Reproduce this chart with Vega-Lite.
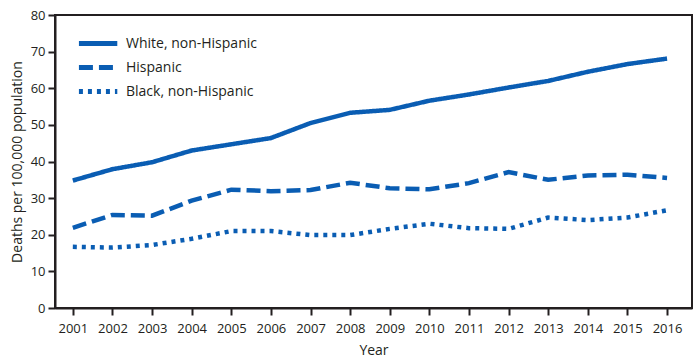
{
  "$schema": "https://vega.github.io/schema/vega-lite/v6.json",
  "width": 637,
  "height": 293,
  "autosize": {"type": "none"},
  "padding": {"left": 55, "top": 15, "right": 8, "bottom": 53},
  "background": "white",
  "config": {
    "font": "Open Sans",
    "view": {"stroke": "#231f20", "strokeWidth": 2},
    "axis": {
      "domainColor": "#231f20",
      "domainWidth": 2,
      "tickColor": "#231f20",
      "tickWidth": 2,
      "tickSize": 7,
      "labelColor": "#231f20",
      "titleColor": "#231f20",
      "labelFont": "Open Sans",
      "titleFont": "Open Sans",
      "labelFontSize": 13,
      "titleFontSize": 14,
      "titleFontWeight": "normal",
      "grid": false
    },
    "legend": {
      "labelFont": "Open Sans",
      "labelFontSize": 14,
      "labelColor": "#231f20"
    }
  },
  "data": {
    "values": [
      {"year": 2001, "group": "White, non-Hispanic", "rate": 34.8},
      {"year": 2002, "group": "White, non-Hispanic", "rate": 37.9},
      {"year": 2003, "group": "White, non-Hispanic", "rate": 39.8},
      {"year": 2004, "group": "White, non-Hispanic", "rate": 43.0},
      {"year": 2005, "group": "White, non-Hispanic", "rate": 44.7},
      {"year": 2006, "group": "White, non-Hispanic", "rate": 46.4},
      {"year": 2007, "group": "White, non-Hispanic", "rate": 50.5},
      {"year": 2008, "group": "White, non-Hispanic", "rate": 53.3},
      {"year": 2009, "group": "White, non-Hispanic", "rate": 54.1},
      {"year": 2010, "group": "White, non-Hispanic", "rate": 56.6},
      {"year": 2011, "group": "White, non-Hispanic", "rate": 58.3},
      {"year": 2012, "group": "White, non-Hispanic", "rate": 60.2},
      {"year": 2013, "group": "White, non-Hispanic", "rate": 62.0},
      {"year": 2014, "group": "White, non-Hispanic", "rate": 64.5},
      {"year": 2015, "group": "White, non-Hispanic", "rate": 66.6},
      {"year": 2016, "group": "White, non-Hispanic", "rate": 68.1},
      {"year": 2001, "group": "Hispanic", "rate": 21.9},
      {"year": 2002, "group": "Hispanic", "rate": 25.4},
      {"year": 2003, "group": "Hispanic", "rate": 25.2},
      {"year": 2004, "group": "Hispanic", "rate": 29.3},
      {"year": 2005, "group": "Hispanic", "rate": 32.3},
      {"year": 2006, "group": "Hispanic", "rate": 31.9},
      {"year": 2007, "group": "Hispanic", "rate": 32.2},
      {"year": 2008, "group": "Hispanic", "rate": 34.2},
      {"year": 2009, "group": "Hispanic", "rate": 32.7},
      {"year": 2010, "group": "Hispanic", "rate": 32.4},
      {"year": 2011, "group": "Hispanic", "rate": 34.1},
      {"year": 2012, "group": "Hispanic", "rate": 37.1},
      {"year": 2013, "group": "Hispanic", "rate": 35.0},
      {"year": 2014, "group": "Hispanic", "rate": 36.2},
      {"year": 2015, "group": "Hispanic", "rate": 36.4},
      {"year": 2016, "group": "Hispanic", "rate": 35.5},
      {"year": 2001, "group": "Black, non-Hispanic", "rate": 16.7},
      {"year": 2002, "group": "Black, non-Hispanic", "rate": 16.5},
      {"year": 2003, "group": "Black, non-Hispanic", "rate": 17.2},
      {"year": 2004, "group": "Black, non-Hispanic", "rate": 18.9},
      {"year": 2005, "group": "Black, non-Hispanic", "rate": 21.0},
      {"year": 2006, "group": "Black, non-Hispanic", "rate": 21.0},
      {"year": 2007, "group": "Black, non-Hispanic", "rate": 19.9},
      {"year": 2008, "group": "Black, non-Hispanic", "rate": 19.9},
      {"year": 2009, "group": "Black, non-Hispanic", "rate": 21.6},
      {"year": 2010, "group": "Black, non-Hispanic", "rate": 23.0},
      {"year": 2011, "group": "Black, non-Hispanic", "rate": 21.8},
      {"year": 2012, "group": "Black, non-Hispanic", "rate": 21.6},
      {"year": 2013, "group": "Black, non-Hispanic", "rate": 24.7},
      {"year": 2014, "group": "Black, non-Hispanic", "rate": 24.0},
      {"year": 2015, "group": "Black, non-Hispanic", "rate": 24.7},
      {"year": 2016, "group": "Black, non-Hispanic", "rate": 26.7}
    ]
  },
  "mark": {"type": "line", "strokeWidth": 4.5, "color": "#0a5db3", "strokeCap": "butt"},
  "encoding": {
    "x": {
      "field": "year",
      "type": "quantitative",
      "title": "Year",
      "scale": {"domain": [2000.55, 2016.63], "nice": false, "zero": false},
      "axis": {
        "values": [2001, 2002, 2003, 2004, 2005, 2006, 2007, 2008, 2009, 2010, 2011, 2012, 2013, 2014, 2015, 2016],
        "format": "d",
        "labelPadding": 7,
        "titlePadding": 8,
        "labelFlush": false
      }
    },
    "y": {
      "field": "rate",
      "type": "quantitative",
      "title": "Deaths per 100,000 population",
      "scale": {"domain": [0, 80], "nice": false},
      "axis": {
        "values": [0, 10, 20, 30, 40, 50, 60, 70, 80],
        "labelPadding": 3,
        "titlePadding": 6,
        "labelFlush": false
      }
    },
    "strokeDash": {
      "field": "group",
      "type": "nominal",
      "scale": {
        "domain": ["White, non-Hispanic", "Hispanic", "Black, non-Hispanic"],
        "range": [[1, 0], [14, 6], [4, 5]]
      },
      "legend": {
        "title": null,
        "orient": "none",
        "legendX": 50,
        "legendY": 21,
        "symbolType": "M-7,0H1",
        "symbolSize": 92,
        "symbolStrokeWidth": 5,
        "symbolStrokeColor": "#0a5db3",
        "symbolFillColor": "transparent",
        "labelOffset": 6,
        "rowPadding": 3,
        "padding": 0
      }
    }
  }
}
